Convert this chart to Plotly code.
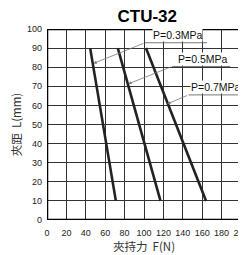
import plotly.graph_objects as go

series_names = ["P=0.3MPa", "P=0.5MPa", "P=0.7MPa"]
force_top = [44.5, 73, 102]      # F at L=90
force_bottom = [71, 117, 164]    # F at L=10
dist_top = 90
dist_bottom = 10

# leader lines: label anchor (tail) and point on curve (head)
label_x = [101, 129, 146]
label_y = [92.8, 80.4, 65.5]
head_x = [48, 84, 124]
head_y = [82, 71.3, 60.8]
text_offset = [7.5, 5, 1.5]
underline_len = [64, 60, 54]

xticks = [0, 20, 40, 60, 80, 100, 120, 140, 160, 180, 200]
yticks = [0, 10, 20, 30, 40, 50, 60, 70, 80, 90, 100]

fig = go.Figure()
for i, name in enumerate(series_names):
    fig.add_trace(go.Scatter(
        x=[force_top[i], force_bottom[i]], y=[dist_top, dist_bottom],
        mode="lines", line=dict(color="#222222", width=2.6),
        name=name, showlegend=False, hoverinfo="skip"))

base_font = "Liberation Sans, Arial, sans-serif"
for i, name in enumerate(series_names):
    fig.add_annotation(
        x=head_x[i], y=head_y[i], ax=label_x[i], ay=label_y[i],
        xref="x", yref="y", axref="x", ayref="y",
        text="", showarrow=True, arrowhead=2, arrowsize=0.8,
        arrowwidth=0.8, arrowcolor="#777777", standoff=0)
    fig.add_annotation(
        x=label_x[i] + text_offset[i], y=label_y[i] + 0.4, xref="x", yref="y",
        text=name, showarrow=False, xanchor="left", yanchor="bottom",
        bgcolor="white", borderpad=0,
        font=dict(family=base_font, size=10.5, color="#111111"))

for i in range(len(series_names)):
    fig.add_shape(type="line", xref="x", yref="y",
                  x0=label_x[i], x1=label_x[i] + underline_len[i],
                  y0=label_y[i], y1=label_y[i],
                  line=dict(color="#555555", width=0.8))

fig.add_shape(type="rect", xref="x", yref="y", x0=0, x1=200, y0=0, y1=100,
              line=dict(color="black", width=2.5), layer="above")

axis_common = dict(showgrid=True, gridcolor="#333333", gridwidth=1.4,
                   zeroline=False, showline=False, ticks="",
                   tickfont=dict(family=base_font, size=9, color="#222222"),
                   fixedrange=True, ticklabeloverflow="allow")

fig.update_xaxes(range=[0, 200], tickvals=xticks, ticklabelstandoff=6,
                 title=dict(text="夾持力  F(N)", standoff=4,
                            font=dict(family="Noto Sans CJK TC, sans-serif", size=11.5, color="#333333")),
                 **axis_common)
fig.update_yaxes(range=[0, 100], tickvals=yticks, ticklabelstandoff=4,
                 title=dict(text="夾距  L(mm)", standoff=10,
                            font=dict(family="Noto Sans CJK TC, sans-serif", size=11.5, color="#333333")),
                 **axis_common)

fig.update_layout(
    width=238, height=247,
    margin=dict(l=39, r=5, t=21, b=35, autoexpand=False),
    paper_bgcolor="white", plot_bgcolor="white",
    title=dict(text="<b>CTU-32</b>", x=0.585, xanchor="center", y=0.967, yanchor="middle",
               font=dict(family=base_font, size=17, color="black")),
    showlegend=False,
)

fig.write_html("out.html", config={"displayModeBar": False})
